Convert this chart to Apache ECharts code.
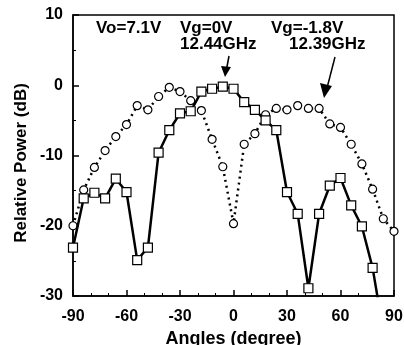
<!DOCTYPE html>
<html>
<head>
<meta charset="utf-8">
<script src="https://cdn.jsdelivr.net/npm/echarts@6/dist/echarts.min.js"></script>
<style>
  html, body { margin: 0; padding: 0; background: #fff; }
  #chart { width: 404px; height: 345px; }
</style>
</head>
<body>
<div id="chart"></div>
<script>
// angles (degree)
const anglesVg0 = [-90, -84, -78, -72, -66, -60, -54, -48, -42, -36, -30, -24, -18, -12, -6, 0,
  6, 12, 18, 24, 30, 36, 42, 48, 54, 60, 66, 72, 78, 84];
// Vg=0V, 12.44GHz (squares, solid)
const powerVg0 = [-23.1, -16.1, -15.3, -16.1, -13.3, -15.2, -24.9, -23.1, -9.6, -6.4, -4.0, -3.7, -0.9, -0.5, -0.2, -0.5,
  -2.4, -3.5, -5.0, -6.4, -15.2, -18.3, -28.9, -18.3, -14.3, -13.2, -17.1, -20.1, -26.0, -35.0];

const anglesVg18 = [-90, -84, -78, -72, -66, -60, -54, -48, -42, -36, -30, -24, -18, -12, -6, 0,
  6, 12, 18, 24, 30, 36, 42, 48, 54, 60, 66, 72, 78, 84, 90];
// Vg=-1.8V, 12.39GHz (circles, dotted)
const powerVg18 = [-20.0, -14.9, -11.7, -9.3, -7.3, -5.6, -2.9, -3.5, -1.6, -0.3, -0.9, -2.2, -3.6, -7.7, -11.6, -19.7,
  -8.4, -6.9, -4.2, -3.3, -3.5, -2.9, -3.3, -3.3, -5.5, -6.0, -8.4, -11.2, -14.8, -19.0, -20.8];

const font = '"Liberation Sans", Arial, sans-serif';

const chart = echarts.init(document.getElementById('chart'));

const axisCommon = {
  axisLine: { show: true, onZero: false, lineStyle: { color: '#000', width: 1.5 } },
  axisTick: { show: true, inside: true, length: 6, lineStyle: { color: '#000', width: 1.5 } },
  splitLine: { show: false },
  axisLabel: { color: '#000', fontSize: 16, fontWeight: 'bold', fontFamily: font },
};

const note = (text, left, top) => ({
  type: 'text', left, top,
  style: { text, fontSize: 17, fontWeight: 'bold', fontFamily: font, fill: '#000' },
});

chart.setOption({
  animation: false,
  grid: {
    left: 73, right: 10, top: 15, bottom: 49,
    outerBoundsMode: 'none',
    show: true, borderColor: '#000', borderWidth: 1.5,
  },
  xAxis: Object.assign({}, axisCommon, {
    type: 'value',
    min: -90, max: 90, interval: 30,
    minorTick: { show: true, splitNumber: 3, length: 3, lineStyle: { color: '#000', width: 1 } },
    axisLabel: Object.assign({}, axisCommon.axisLabel, { margin: 13 }),
    name: 'Angles (degree)',
    nameLocation: 'center',
    nameGap: 29,
    nameTextStyle: { color: '#000', fontSize: 18, fontWeight: 'bold', fontFamily: font },
  }),
  yAxis: Object.assign({}, axisCommon, {
    type: 'value',
    min: -30, max: 10, interval: 10,
    minorTick: { show: true, splitNumber: 2, length: 3, lineStyle: { color: '#000', width: 1 } },
    axisLabel: Object.assign({}, axisCommon.axisLabel, { margin: 10 }),
  }),
  series: [
    {
      name: 'Vg=-1.8V',
      type: 'line',
      data: anglesVg18.map((a, i) => [a, powerVg18[i]]),
      symbol: 'circle',
      symbolSize: 8,
      itemStyle: { color: '#fff', borderColor: '#000', borderWidth: 1.2 },
      lineStyle: { color: '#000', width: 2.5, type: [2, 4] },
      z: 2,
    },
    {
      name: 'Vg=0V',
      type: 'line',
      data: anglesVg0.map((a, i) => [a, powerVg0[i]]),
      symbol: 'rect',
      symbolSize: 9,
      itemStyle: { color: '#fff', borderColor: '#000', borderWidth: 1.2 },
      lineStyle: { color: '#000', width: 2.5 },
      clip: true,
      z: 3,
    },
  ],
  graphic: [
    {
      type: 'text', x: 21, y: 163, rotation: Math.PI / 2,
      style: {
        text: 'Relative Power (dB)', fontSize: 17, fontWeight: 'bold', fontFamily: font, fill: '#000',
        align: 'center', verticalAlign: 'middle',
      },
    },
    note('Vo=7.1V', 96, 20),
    note('Vg=0V', 180, 20),
    note('12.44GHz', 180, 36),
    note('Vg=-1.8V', 271, 20),
    note('12.39GHz', 289, 36),
    { type: 'line', shape: { x1: 229, y1: 56, x2: 226, y2: 72 }, style: { stroke: '#000', lineWidth: 1.5 } },
    { type: 'polygon', shape: { points: [[221, 66], [231, 67], [225, 77]] }, style: { fill: '#000' } },
    { type: 'line', shape: { x1: 335, y1: 57, x2: 327, y2: 88 }, style: { stroke: '#000', lineWidth: 1.5 } },
    { type: 'polygon', shape: { points: [[320, 83], [332, 86], [324, 98]] }, style: { fill: '#000' } },
  ],
});
</script>
</body>
</html>
